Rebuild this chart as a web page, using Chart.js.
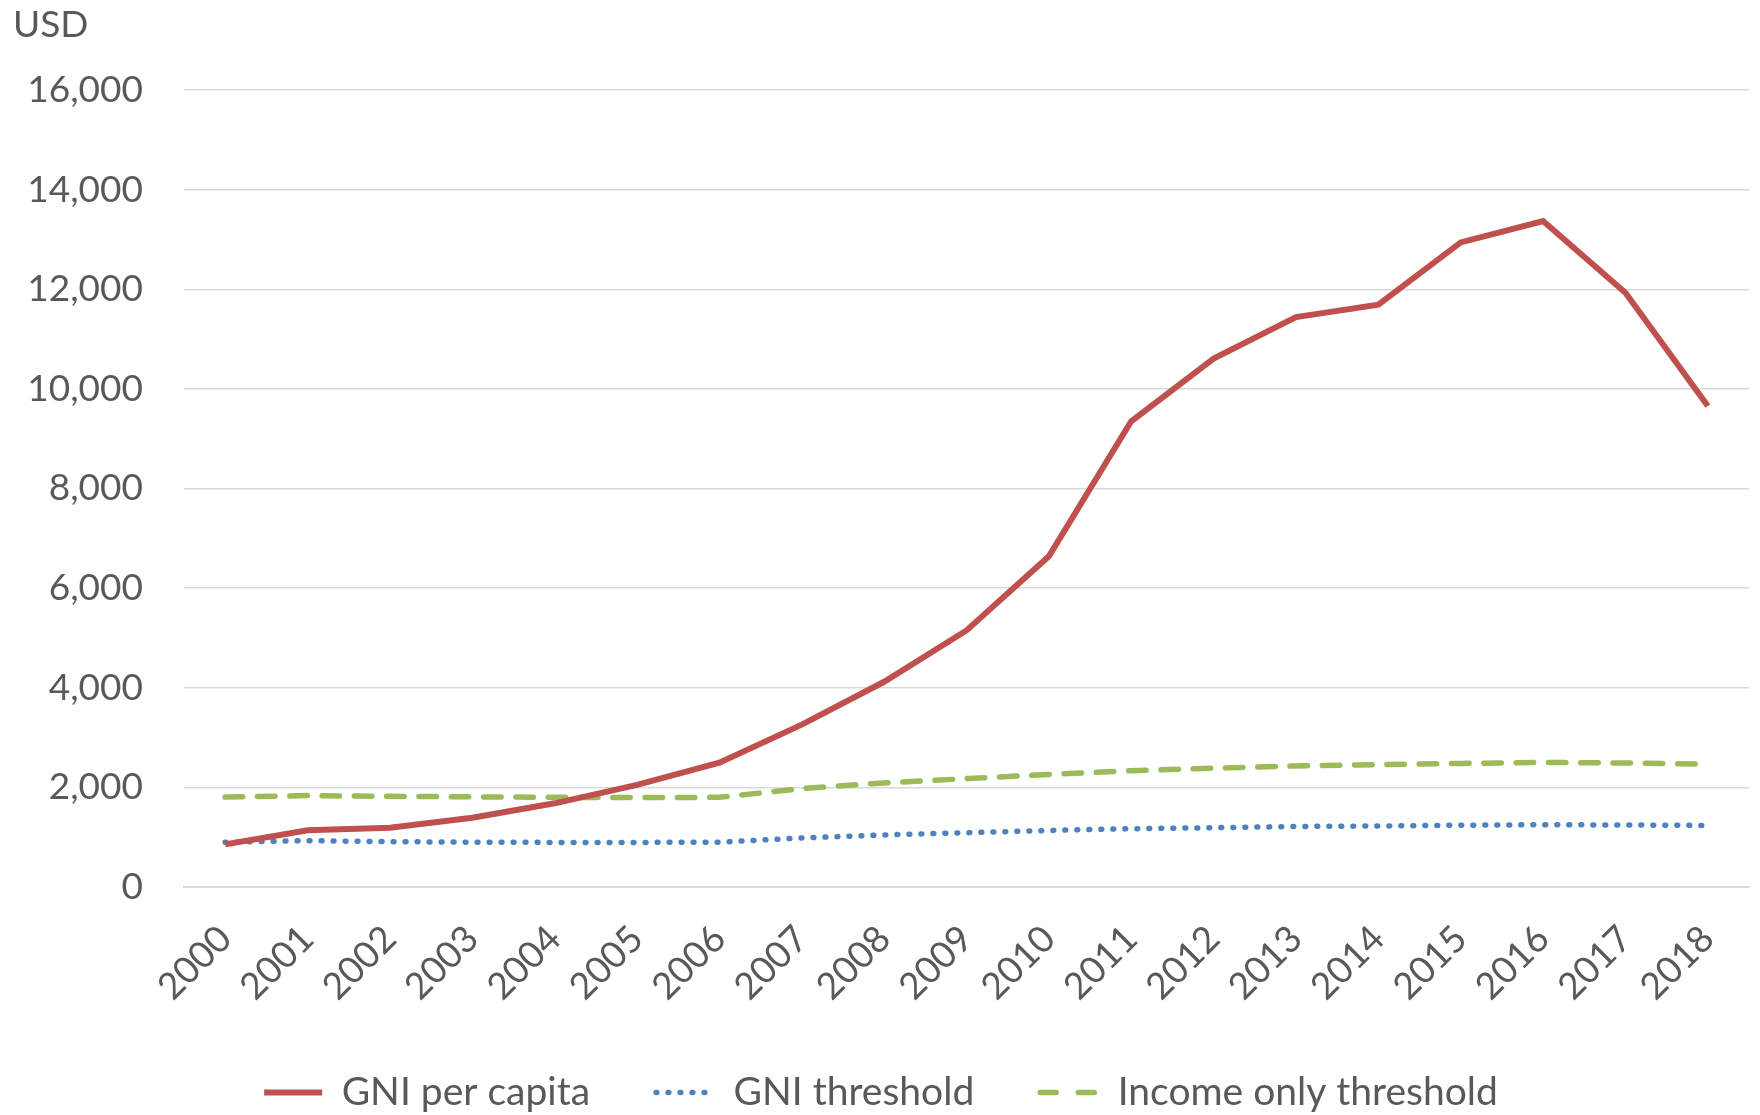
<!DOCTYPE html>
<html>
<head>
<meta charset="utf-8">
<script src="https://cdn.jsdelivr.net/npm/chart.js@4/dist/chart.umd.min.js"></script>
<style>
  html, body { margin: 0; padding: 0; background: #fff; }
  #wrap { width: 1760px; height: 1115px; }
</style>
</head>
<body>
<div id="wrap"><canvas id="myChart"></canvas></div>
<script>
const years = ['2000', '2001', '2002', '2003', '2004', '2005', '2006', '2007', '2008', '2009',
               '2010', '2011', '2012', '2013', '2014', '2015', '2016', '2017', '2018'];

const gniPerCapita = [855, 1140, 1190, 1390, 1680, 2050, 2495, 3260, 4120, 5150,
                      6640, 9350, 10610, 11440, 11690, 12940, 13370, 11930, 9655];

const gniThreshold = [900, 930, 910, 900, 895, 895, 900, 985, 1045, 1090,
                      1135, 1170, 1190, 1215, 1225, 1240, 1250, 1245, 1235];

const incomeOnlyThreshold = [1805, 1835, 1820, 1810, 1800, 1795, 1800, 1975, 2090, 2175,
                             2260, 2335, 2385, 2430, 2455, 2480, 2500, 2490, 2465];

const yTicks = { min: 0, max: 16000, step: 2000 };

const textColor = '#595959';
const gridColor = '#d9d9d9';

Chart.defaults.font.family = 'Lato, "Open Sans", sans-serif';
Chart.defaults.color = textColor;

const data = {
  labels: years,
  datasets: [
    {
      label: 'GNI per capita',
      data: gniPerCapita,
      borderColor: '#c0504d',
      backgroundColor: '#c0504d',
      borderWidth: 6,
      pointRadius: 0,
      tension: 0
    },
    {
      label: 'GNI threshold',
      data: gniThreshold,
      borderColor: '#4f81bd',
      backgroundColor: '#4f81bd',
      borderWidth: 5.5,
      borderDash: [0.8, 11.2],
      borderCapStyle: 'round',
      pointRadius: 0,
      tension: 0
    },
    {
      label: 'Income only threshold',
      data: incomeOnlyThreshold,
      borderColor: '#9bbb59',
      backgroundColor: '#9bbb59',
      borderWidth: 5.5,
      borderDash: [17.5, 14.8],
      borderCapStyle: 'round',
      pointRadius: 0,
      tension: 0
    }
  ]
};

// legend samples should use the line's own width and dash, not the point style
const legendLabels = (chart) =>
  Chart.defaults.plugins.legend.labels.generateLabels(chart).map((item) => {
    const ds = chart.data.datasets[item.datasetIndex];
    item.lineWidth = ds.borderWidth;
    item.lineDash = ds.borderDash || [];
    item.lineCap = ds.borderCapStyle || 'butt';
    if (item.datasetIndex === 2) item.lineDash = [16, 22];
    return item;
  });

new Chart(document.getElementById('myChart').getContext('2d'), {
  type: 'line',
  data: data,
  options: {
    responsive: true,
    maintainAspectRatio: false,
    animation: false,
    layout: {
      padding: { left: 13, right: 11, top: 0, bottom: -7 }
    },
    plugins: {
      title: {
        display: true,
        text: 'USD',
        align: 'start',
        color: textColor,
        font: { size: 37, weight: 'normal' },
        padding: { top: 3, bottom: 42.6 }
      },
      legend: {
        position: 'bottom',
        labels: {
          usePointStyle: true,
          pointStyle: 'line',
          pointStyleWidth: 58,
          padding: 66,
          color: textColor,
          font: { size: 39 },
          generateLabels: legendLabels
        }
      },
      tooltip: { enabled: false }
    },
    scales: {
      x: {
        offset: true,
        grid: { display: false, drawTicks: false },
        border: { display: true, color: gridColor, width: 2 },
        ticks: {
          autoSkip: false,
          maxRotation: 45,
          minRotation: 45,
          padding: 30,
          font: { size: 37 }
        },
        afterFit: (scale) => {
          scale.height = 120;
          scale.paddingRight = 0;
        }
      },
      y: {
        min: yTicks.min,
        max: yTicks.max,
        grid: { color: gridColor, lineWidth: 1.5, drawTicks: false },
        border: { display: false },
        ticks: {
          stepSize: yTicks.step,
          padding: 41,
          font: { size: 37 },
          callback: (v) => v.toLocaleString('en-US')
        },
        afterFit: (scale) => { scale.width = 171; }
      }
    }
  }
});
</script>
</body>
</html>
